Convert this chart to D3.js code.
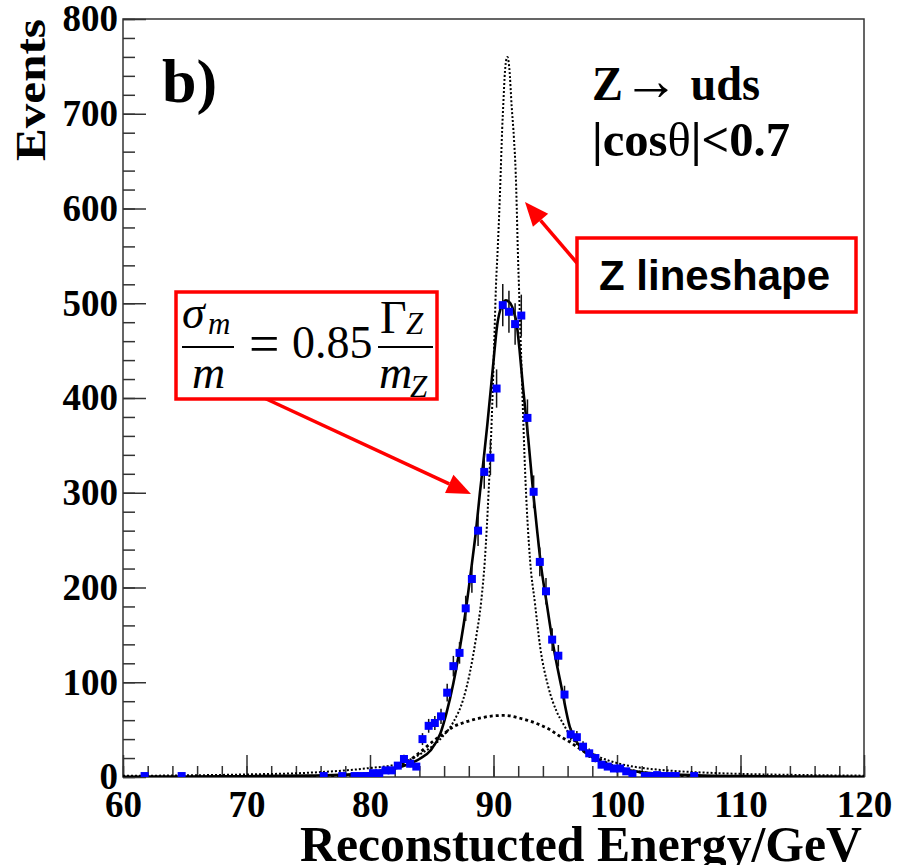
<!DOCTYPE html>
<html>
<head>
<meta charset="utf-8">
<script src="https://cdn.jsdelivr.net/npm/d3@7"></script>
<style>
  body { margin: 0; background: #fff; }
  svg text { font-family: "Liberation Serif", "Times New Roman", serif; }
</style>
</head>
<body>
<div id="chart"></div>
<script>
// histogram bins (GeV) and counts
const binCenters = [61.75, 64.75, 76.25, 77.75, 78.75, 79.25, 79.75,
  80.25, 80.75, 81.25, 81.75, 82.25, 82.75, 83.25, 83.75,
  84.25, 84.75, 85.25, 85.75, 86.25, 86.75, 87.25, 87.75,
  88.25, 88.75, 89.25, 89.75, 90.25, 90.75, 91.25, 91.75,
  92.25, 92.75, 93.25, 93.75, 94.25, 94.75, 95.25, 95.75,
  96.25, 96.75, 97.25, 97.75, 98.25, 98.75, 99.25, 99.75,
  100.25, 100.75, 101.25,
  102.25, 102.75, 103.25, 103.75, 104.25, 104.75,
  106.25];
const counts = [1, 1, 1, 1, 1, 1, 1,
  4, 4, 7, 7, 12, 19, 14, 11,
  40, 54, 57, 64, 89, 117, 131, 178,
  209, 260, 322, 337, 410, 498, 491, 478,
  487, 379, 301, 227, 196, 145, 128, 87,
  45, 42, 32, 25, 20, 13, 11, 9,
  9, 6, 3,
  1, 1, 2, 1, 1, 1,
  1];
const errors = [1, 1, 1, 1, 1, 1, 1,
  2, 2, 2.6, 2.6, 3.5, 4.4, 3.7, 3.3,
  6.3, 7.3, 7.5, 8, 9.4, 10.8, 11.4, 13.3,
  14.5, 16.1, 17.9, 18.4, 20.2, 22.3, 22.2, 21.9,
  22.1, 19.5, 17.3, 15.1, 14, 12, 11.3, 9.3,
  6.7, 6.5, 5.7, 5, 4.5, 3.6, 3.3, 3,
  3, 2.4, 1.7,
  1, 1, 1.4, 1, 1, 1,
  1];

// fitted curve (solid)
const fitE = [60, 65, 70, 75, 78, 80, 81, 82, 83, 84, 84.9, 85.7, 86.2, 86.75, 87.3,
  87.8, 88.25, 88.6, 88.9, 89.2, 89.5, 89.95, 90.3, 90.65, 91.0, 91.3, 91.6, 91.9, 92.1, 92.4,
  92.8, 93.2, 93.6, 93.8, 94.3, 94.85, 95.5, 96.2, 96.6, 97.0, 98.1, 99.2, 100.2, 101, 102,
  104, 107, 110, 115, 120];
const fitN = [0.3, 0.5, 0.8, 1.5, 2.5, 4, 6, 9, 13, 19, 28, 46, 68, 99, 138,
  180, 225, 262, 300, 335, 372, 432, 477, 497, 503, 501, 493, 476, 452, 410,
  359, 302, 252, 228, 184, 138, 95, 52, 40, 32, 20, 13, 9, 7, 5,
  3, 1.5, 1, 0.5, 0.3];

// Z lineshape (fine dotted)
const zE = [60, 65, 70, 75, 80, 82, 83.5, 84.3, 85.1, 85.9, 86.75, 87.55, 88.1, 88.6, 89.0,
  89.3, 89.6, 89.85, 90.05, 90.2, 90.35, 90.47, 90.58, 90.7, 90.8, 90.93, 91.05, 91.13, 91.28, 91.47,
  91.66, 91.8, 91.88, 91.96, 92.06, 92.25, 92.6, 92.96, 93.36, 93.77, 94.44, 95.12, 95.65, 96.46, 97.55,
  98.6, 100.2, 102.4, 104, 107.5, 110, 115, 120];
const zN = [1.2, 1.7, 2.7, 4.5, 9.5, 13, 20, 26, 33, 43, 58, 82, 111, 148, 185,
  229, 300, 375, 455, 518, 560, 597, 637, 683, 712, 745, 758, 760, 748, 708,
  673, 637, 602, 560, 518, 440, 310, 229, 183, 138, 95, 69, 56, 39, 28,
  21, 14, 9, 7, 4.4, 3.3, 2.1, 1.4];

// resolution part (dashed)
const resE = [72, 75, 78, 80, 81, 82, 83, 84.05, 85.13, 86.0, 86.75, 87.5, 88.37, 89.2, 89.98,
  91.0, 91.34, 92.15, 92.96, 93.77, 94.57, 95.38, 95.93, 96.74, 97.55, 98.5, 99.5, 100.5, 102, 104,
  107, 110];
const resN = [0.1, 0.5, 1.5, 4, 7, 10, 16, 26, 38, 46, 53, 57, 60.5, 63, 64.5,
  65, 64.5, 62, 59, 55, 50, 43, 39, 32, 25, 19, 13, 9, 5, 2,
  0.5, 0.1];

const xTicks = [60, 70, 80, 90, 100, 110, 120];
const yTicks = [0, 100, 200, 300, 400, 500, 600, 700, 800];

const svgWidth = 905, svgHeight = 865;
const plotLeft = 123, plotRight = 864, plotTop = 19, plotBottom = 777;

const svg = d3.select('#chart').append('svg')
  .attr('width', svgWidth)
  .attr('height', svgHeight);

const x = d3.scaleLinear().domain([60, 120]).range([plotLeft, plotRight]);
const y = d3.scaleLinear().domain([0, 800]).range([plotBottom, plotTop]);

svg.append('clipPath').attr('id', 'plot')
  .append('rect')
  .attr('x', plotLeft).attr('y', plotTop)
  .attr('width', plotRight - plotLeft).attr('height', plotBottom - plotTop);

// minor ticks first, then majors with labels
const styleAxis = g => {
  g.select('.domain').remove();
  g.selectAll('.tick line').attr('stroke', '#333').attr('stroke-width', 1.5);
  g.selectAll('text')
    .attr('fill', '#000')
    .style('font-family', '"Liberation Serif", serif')
    .style('font-weight', 'bold')
    .style('font-size', '37px');
};

svg.append('g')
  .attr('transform', `translate(${plotLeft},0)`)
  .call(d3.axisLeft(y).tickValues(d3.range(0, 801, 20)).tickSize(-12).tickFormat(''))
  .call(styleAxis);
svg.append('g')
  .attr('transform', `translate(${plotLeft},0)`)
  .call(d3.axisLeft(y).tickValues(yTicks).tickSizeInner(-23).tickSizeOuter(0).tickPadding(5).tickFormat(d3.format('d')))
  .call(styleAxis);

svg.append('g')
  .attr('transform', `translate(0,${plotBottom})`)
  .call(d3.axisBottom(x).tickValues(d3.range(60, 121, 2)).tickSize(-11).tickFormat(''))
  .call(styleAxis);
svg.append('g')
  .attr('transform', `translate(0,${plotBottom})`)
  .call(d3.axisBottom(x).tickValues(xTicks).tickSizeInner(-22).tickSizeOuter(0).tickPadding(14).tickFormat(d3.format('d')))
  .call(styleAxis);

svg.append('rect')
  .attr('x', plotLeft).attr('y', plotTop)
  .attr('width', plotRight - plotLeft).attr('height', plotBottom - plotTop)
  .attr('fill', 'none')
  .attr('stroke', '#333')
  .attr('stroke-width', 1.5);

// curves
const line = d3.line()
  .x(d => x(d[0]))
  .y(d => y(d[1]))
  .curve(d3.curveMonotoneX);

const curves = svg.append('g').attr('clip-path', 'url(#plot)');

curves.append('path')
  .attr('d', line(d3.zip(zE, zN)))
  .attr('fill', 'none')
  .attr('stroke', '#000')
  .attr('stroke-width', 2)
  .attr('stroke-dasharray', '2,2');

curves.append('path')
  .attr('d', line(d3.zip(resE, resN)))
  .attr('fill', 'none')
  .attr('stroke', '#000')
  .attr('stroke-width', 2.8)
  .attr('stroke-dasharray', '3,3');

curves.append('path')
  .attr('d', line(d3.zip(fitE, fitN)))
  .attr('fill', 'none')
  .attr('stroke', '#000')
  .attr('stroke-width', 2.6);

// data points with error bars
const pts = binCenters.map((e, i) => ({e, n: counts[i], err: errors[i]}));

curves.selectAll('line.err')
  .data(pts)
  .enter()
  .append('line')
  .attr('class', 'err')
  .attr('x1', d => x(d.e)).attr('x2', d => x(d.e))
  .attr('y1', d => y(d.n - d.err)).attr('y2', d => y(d.n + d.err))
  .attr('stroke', '#111')
  .attr('stroke-width', 1.5);

curves.selectAll('rect.pt')
  .data(pts)
  .enter()
  .append('rect')
  .attr('class', 'pt')
  .attr('x', d => x(d.e) - 4)
  .attr('y', d => y(d.n) - 4)
  .attr('width', 8)
  .attr('height', 8)
  .attr('fill', '#0000ff');

// axis titles
svg.append('text')
  .attr('x', 862).attr('y', 861)
  .attr('text-anchor', 'end')
  .attr('textLength', 562)
  .attr('lengthAdjust', 'spacingAndGlyphs')
  .style('font-weight', 'bold')
  .style('font-size', '50px')
  .text('Reconstucted Energy/GeV');

svg.append('text')
  .attr('transform', 'translate(45,19) rotate(-90)')
  .attr('text-anchor', 'end')
  .attr('textLength', 142)
  .attr('lengthAdjust', 'spacingAndGlyphs')
  .style('font-weight', 'bold')
  .style('font-size', '42px')
  .text('Events');

// panel label and selection text
svg.append('text')
  .attr('x', 162).attr('y', 102)
  .style('font-weight', 'bold')
  .style('font-size', '62px')
  .text('b)');

const t1 = svg.append('text')
  .attr('x', 592).attr('y', 100)
  .attr('textLength', 168)
  .attr('lengthAdjust', 'spacingAndGlyphs')
  .style('font-weight', 'bold')
  .style('font-size', '48px');
t1.append('tspan').text('Z');
t1.append('tspan').style('font-weight', 'normal').style('font-size', '58px').text('\u2192');
t1.append('tspan').text(' uds');

const t2 = svg.append('text')
  .attr('x', 592).attr('y', 156)
  .attr('textLength', 198)
  .attr('lengthAdjust', 'spacingAndGlyphs')
  .style('font-weight', 'bold')
  .style('font-size', '48px');
t2.append('tspan').text('|cos');
t2.append('tspan').style('font-weight', 'normal').text('\u03b8');
t2.append('tspan').text('|<0.7');

// arrows
function arrow(x1, y1, x2, y2) {
  const a = Math.atan2(y2 - y1, x2 - x1);
  const len = 24, hw = 10;
  const bx = x2 - len * Math.cos(a), by = y2 - len * Math.sin(a);
  svg.append('line')
    .attr('x1', x1).attr('y1', y1).attr('x2', bx).attr('y2', by)
    .attr('stroke', '#ff0000').attr('stroke-width', 3.5);
  svg.append('polygon')
    .attr('points', [
      [x2, y2],
      [bx + hw * Math.sin(a), by - hw * Math.cos(a)],
      [bx - hw * Math.sin(a), by + hw * Math.cos(a)]
    ].map(p => p.join(',')).join(' '))
    .attr('fill', '#ff0000');
}

arrow(577, 263, 525, 202);
arrow(262, 397, 471, 494);

// Z lineshape box
svg.append('rect')
  .attr('x', 577).attr('y', 238)
  .attr('width', 279).attr('height', 74)
  .attr('fill', '#fff')
  .attr('stroke', '#ff0000')
  .attr('stroke-width', 3.5);
svg.append('text')
  .attr('x', 599).attr('y', 290)
  .attr('textLength', 231)
  .attr('lengthAdjust', 'spacingAndGlyphs')
  .style('font-family', '"Liberation Sans", Arial, sans-serif')
  .style('font-weight', 'bold')
  .style('font-size', '42px')
  .text('Z lineshape');

// resolution formula box
svg.append('rect')
  .attr('x', 176).attr('y', 292)
  .attr('width', 261).attr('height', 107)
  .attr('fill', '#fff')
  .attr('stroke', '#ff0000')
  .attr('stroke-width', 3.5);

const f = svg.append('g');
const put = (txt, px, py, size, italic) => f.append('text')
  .attr('x', px).attr('y', py)
  .style('font-size', size + 'px')
  .style('font-style', italic ? 'italic' : 'normal')
  .text(txt);

put('\u03c3', 182, 328, 46, true);
put('m', 208, 334, 31, true);
put('m', 192, 388, 46, true);
put('=', 249, 362, 54, false);
put('0.85', 292, 358, 46, false);
put('\u0393', 380, 333, 46, false);
put('Z', 406, 334, 31, true);
put('m', 379, 388, 46, true);
put('Z', 410, 397, 31, true);

f.append('line').attr('x1', 182).attr('x2', 234).attr('y1', 347).attr('y2', 347)
  .attr('stroke', '#000').attr('stroke-width', 2);
f.append('line').attr('x1', 378).attr('x2', 433).attr('y1', 347).attr('y2', 347)
  .attr('stroke', '#000').attr('stroke-width', 2);
</script>
</body>
</html>
